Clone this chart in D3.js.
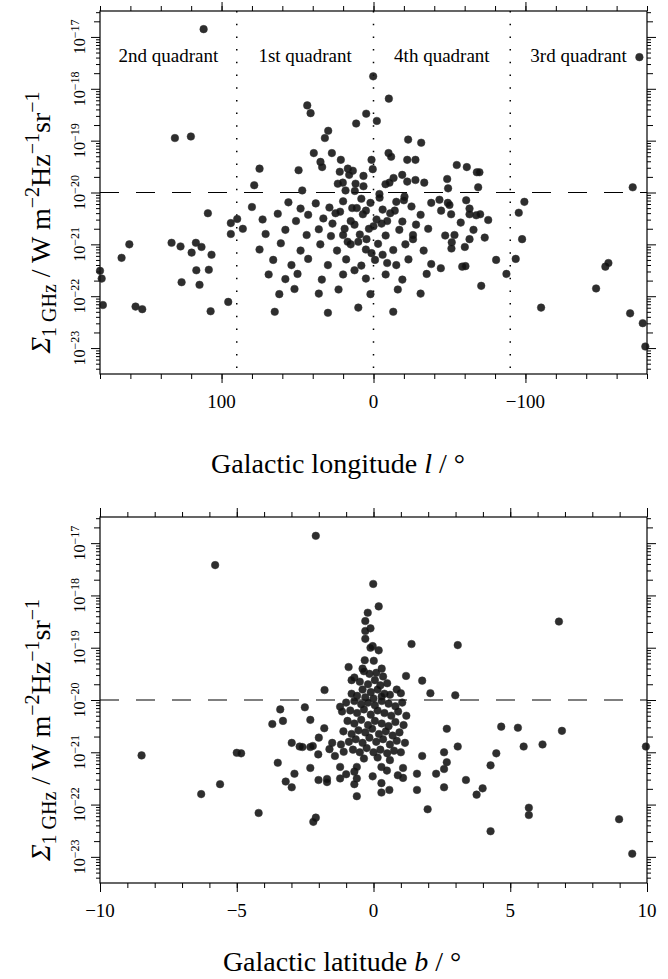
<!DOCTYPE html>
<html>
<head>
<meta charset="utf-8">
<script src="https://cdn.jsdelivr.net/npm/d3@7"></script>
<style>
  body { margin: 0; background: #fff; }
  svg { display: block; }
  text { font-family: "Liberation Serif", "Times New Roman", serif; fill: #000; }
</style>
</head>
<body>
<div id="chart"></div>
<script>
// [galactic longitude (deg), log10 Sigma_1GHz]
const lonPoints = [
  [111.8,-16.85],[130.7,-18.95],[120.2,-18.92],[180,-21.51],[178.9,-21.66],[178.1,-22.17],[165.8,-21.26],
  [160.7,-21.00],[156.6,-22.20],[152.2,-22.25],[132.9,-20.97],[127.0,-21.04],[126.3,-21.73],[119.7,-21.16],
  [116.9,-20.97],[113.2,-21.05],[116.6,-21.50],[114.5,-21.78],[108.4,-21.49],[106.6,-21.20],[107.2,-22.29],
  [109.0,-20.40],[95.6,-22.11],[93.9,-20.59],[93.9,-20.80],[89.7,-20.51],[75.0,-19.54],[78.5,-19.86],
  [49.3,-19.57],[46.9,-19.96],[43.6,-18.32],[41.4,-18.47],[29.8,-18.81],[32.0,-18.95],[39.3,-19.24],
  [34.9,-19.41],[33.8,-19.51],[27.4,-19.24],[21.5,-19.37],[22.2,-19.60],[16.9,-19.54],[13.6,-19.58],
  [16.0,-19.66],[6.6,-19.68],[11.4,-18.67],[4.8,-18.48],[0.2,-17.76],[-2.2,-18.62],[-10.1,-18.19],
  [1.3,-19.37],[0.5,-19.55],[-9.9,-19.24],[-11.6,-19.31],[-22.8,-18.98],[-31.4,-19.04],[-22.2,-19.37],
  [-27.6,-19.37],[-54.8,-19.47],[-13.2,-19.72],[-18.9,-19.66],[-22.2,-19.79],[-27.6,-19.76],[-33.4,-19.81],
  [-48.5,-19.74],[-49.1,-19.92],[23.5,-19.83],[20.2,-19.81],[18.4,-19.96],[11.8,-19.83],[6.6,-19.88],
  [12.3,-19.97],[-7.9,-19.84],[-10.5,-19.81],[-3.9,-20.03],[-20.4,-20.08],[-175.0,-17.39],[-61.4,-19.51],
  [-68.0,-19.61],[-69.7,-19.61],[-68.9,-19.90],[-170.6,-19.90],[-99.3,-20.18],[-95.6,-20.39],[-97.8,-20.90],
  [-93.6,-21.28],[-80.7,-21.30],[-87.5,-21.57],[-70.9,-21.80],[-110.3,-22.22],[-146.5,-21.85],[-152.6,-21.43],
  [-154.6,-21.36],[-168.9,-22.33],[-177.2,-22.52],[-178.9,-22.97],[-61.0,-20.15],[-63.2,-20.31],[-63.2,-20.42],
  [-67.6,-20.44],[-70.2,-20.42],[-75.5,-20.53],[-57.4,-20.58],[-65.8,-20.72],[-63.2,-20.90],[-73.2,-20.87],
  [-53.3,-20.82],[-47.2,-20.83],[-51.5,-20.96],[-51.3,-21.08],[-60.1,-21.05],[-58.4,-21.43],[-60.5,-21.42],
  [-44.3,-21.46],[-48.9,-20.20],[-50.0,-20.24],[-44.5,-20.35],[-51.1,-20.42],[-43.4,-20.14],
  // dense inner-Galaxy group below the dashed level
  [80,-20.28],[56,-20.19],[48,-20.31],[38,-20.21],[29,-20.29],[20,-20.17],[11,-20.3],[2,-20.2],[-6,-20.33],
  [-15,-20.18],[-25,-20.27],[-38,-20.2],[73,-20.52],[63,-20.41],[51,-20.55],[43,-20.43],[33,-20.5],[25,-20.4],
  [15,-20.55],[7,-20.42],[-2,-20.52],[-11,-20.4],[-19,-20.56],[-31,-20.43],[86,-20.7],[71,-20.8],[58,-20.72],
  [44,-20.82],[36,-20.71],[28,-20.84],[19,-20.7],[9,-20.81],[3,-20.7],[-8,-20.83],[-17,-20.72],[-26,-20.82],
  [-36,-20.7],[75,-21.1],[61,-20.98],[48,-21.12],[35,-21.0],[24,-21.12],[15,-21.0],[5,-21.1],[-3,-20.99],
  [-13,-21.11],[-21,-21.0],[-33,-21.12],[66,-21.3],[54,-21.4],[43,-21.28],[30,-21.4],[18,-21.29],[8,-21.41],
  [-1,-21.3],[-15,-21.4],[-23,-21.29],[-38,-21.38],[69,-21.58],[58,-21.67],[50,-21.57],[34,-21.68],[20,-21.58],
  [5,-21.66],[-8,-21.58],[-19,-21.68],[-35,-21.57],[62,-21.96],[52,-21.86],[36,-21.95],[23,-21.87],
  [2,-21.96],[-16,-21.87],[-31,-21.95],[65,-22.3],[30,-22.32],[10,-22.22],[-13,-22.3],
  [22,-20.37],[12.5,-20.62],[4.6,-20.9],[-5.3,-20.6],[-14,-20.35],[8,-20.12],[17,-20.95],[1.3,-21.17],
  [-9,-21.36],[12.5,-21.5],[-4,-20.1],[5,-20.35],[-9,-20.55],[14,-20.3],[-20,-20.15],[27,-20.6],
  [-28,-20.62],[0,-20.65],[10,-20.95],[-6,-21.2],[-26,-20.9],[20,-20.82]
];

// [galactic latitude (deg), log10 Sigma_1GHz]
const latPoints = [
  [-5.79,-17.42],[-8.48,-21.06],[-6.30,-21.80],[-5.61,-21.61],[-5.00,-21.01],[-2.11,-16.86],[-0.01,-17.78],
  [0.19,-18.21],[-0.21,-18.33],[-0.30,-18.49],[-0.11,-18.63],[-0.30,-18.68],[-0.30,-18.83],[-0.03,-18.97],
  [-0.11,-19.00],[0.19,-19.05],[1.39,-18.93],[3.08,-18.95],[-0.91,-19.37],[-0.32,-19.24],[0.01,-19.25],
  [0.30,-19.40],[-0.40,-19.40],[-0.70,-19.57],[-0.80,-19.62],[1.19,-19.54],[1.78,-19.63],[-1.79,-19.81],
  [1.00,-19.87],[2.08,-19.87],[2.99,-19.91],[-3.41,-20.18],[-2.51,-20.14],[-3.70,-20.46],[-3.31,-20.40],
  [-2.31,-20.38],[-1.80,-20.54],[-1.22,-20.13],[-2.99,-20.82],[-2.70,-20.89],[-2.60,-20.90],[-2.31,-20.90],
  [-2.22,-20.88],[-2.00,-20.72],[-2.02,-21.04],[-1.51,-20.82],[-1.61,-20.94],[-1.41,-21.07],[-1.19,-20.85],
  [-1.09,-20.99],[-4.84,-21.02],[-3.50,-21.20],[-2.89,-21.41],[-3.21,-21.56],[-2.99,-21.67],[-2.31,-21.30],
  [-2.01,-21.53],[-1.70,-21.51],[-1.70,-21.57],[-1.22,-21.28],[-1.22,-21.50],[-1.00,-21.42],[-0.70,-21.37],
  [-0.61,-21.28],[-0.61,-21.50],[-0.70,-21.61],[-0.61,-21.84],[-0.03,-21.46],[0.29,-21.28],[0.49,-21.35],
  [0.29,-21.59],[0.29,-21.77],[0.58,-21.72],[0.89,-21.44],[1.08,-21.49],[1.08,-21.30],[1.59,-21.41],
  [1.59,-21.72],[1.78,-21.07],[2.29,-21.41],[2.58,-21.00],[2.68,-21.19],[2.58,-21.32],[2.58,-21.67],
  [2.68,-20.55],[3.08,-20.89],[3.38,-21.53],[3.77,-21.81],[-4.20,-22.16],[-2.11,-22.25],[-2.20,-22.33],
  [1.98,-22.09],[6.78,-18.50],[4.67,-20.51],[5.28,-20.53],[6.89,-20.59],[5.49,-20.89],[6.18,-20.85],
  [4.49,-21.02],[4.28,-21.25],[9.96,-20.89],[3.99,-21.69],[5.68,-22.06],[5.68,-22.20],[4.28,-22.51],
  [8.98,-22.28],[9.46,-22.94],
  // crowded core close to the plane
  [-0.35,-19.45],[-0.15,-19.5],[0.1,-19.48],[0.35,-19.55],[-0.5,-19.65],[-0.2,-19.7],[0.05,-19.62],
  [0.25,-19.72],[0.5,-19.68],[-0.4,-19.8],[-0.1,-19.85],[0.15,-19.8],[0.4,-19.88],[-0.6,-19.92],
  [-0.3,-19.95],[0.0,-19.97],[0.3,-19.93],[0.6,-19.9],[-0.8,-19.88],[0.85,-19.8],
  [-1.0,-20.05],[-0.7,-20.02],[-0.45,-20.08],[-0.2,-20.05],[0.05,-20.1],[0.3,-20.02],[0.55,-20.07],
  [0.8,-20.12],[1.05,-20.05],[-1.15,-20.22],[-0.85,-20.2],[-0.6,-20.25],[-0.35,-20.18],[-0.1,-20.28],
  [0.15,-20.2],[0.4,-20.25],[0.65,-20.3],[0.9,-20.22],[1.2,-20.3],[-0.95,-20.4],[-0.7,-20.45],
  [-0.45,-20.38],[-0.2,-20.48],[0.05,-20.4],[0.3,-20.45],[0.55,-20.5],[0.8,-20.42],[1.1,-20.48],
  [-1.1,-20.6],[-0.8,-20.65],[-0.55,-20.58],[-0.3,-20.62],[-0.05,-20.55],[0.2,-20.65],[0.45,-20.6],
  [0.7,-20.68],[0.95,-20.62],[-0.9,-20.8],[-0.65,-20.75],[-0.4,-20.82],[-0.15,-20.72],[0.1,-20.8],
  [0.35,-20.75],[0.6,-20.85],[0.85,-20.78],[1.15,-20.82],[-0.75,-20.95],[-0.5,-21.0],[-0.25,-20.92],
  [0.0,-21.0],[0.25,-20.95],[0.5,-21.02],[0.75,-20.97],[1.0,-21.0],[-0.35,-21.12],[0.15,-21.1],[0.6,-21.15]
];

const decades = [-23, -22, -21, -20, -19, -18, -17];
const lonLabels = [100, 0, -100];
const latLabels = [-10, -5, 0, 5, 10];
const quadrantNames = ['2nd quadrant', '1st quadrant', '4th quadrant', '3rd quadrant'];
const quadrantCentres = [135, 45, -45, -135];
const quadrantEdges = [90, 0, -90];
const threshold = 1e-20;

const width = 668, height = 979;
const left = 100, right = 647;

const svg = d3.select('#chart').append('svg')
  .attr('width', width)
  .attr('height', height);

svg.append('rect').attr('width', width).attr('height', height).attr('fill', '#fff');

// minor log ticks k x 10^n inside the domain; the k = 2 ones are drawn a bit longer
const yDomain = [Math.pow(10, -23.5), Math.pow(10, -16.5)];
const minorTicks = [], minorTicks2 = [];
for (let n = -24; n <= -17; n++) {
  for (let k = 2; k <= 9; k++) {
    const v = k * Math.pow(10, n);
    if (v < yDomain[0] || v > yDomain[1]) continue;
    (k === 2 ? minorTicks2 : minorTicks).push(v);
  }
}

function drawPanel(p) {
  const x = d3.scaleLinear().domain(p.xDomain).range([left, right]);
  const y = d3.scaleLog().domain(yDomain).range([p.bottom, p.top]);
  const g = svg.append('g');
  const strip = s => s.select('.domain').remove();

  // y ticks, both sides
  [[d3.axisLeft, left], [d3.axisRight, right]].forEach(([ax, xp]) => {
    [[minorTicks, 4], [minorTicks2, 6], [decades.map(e => Math.pow(10, e)), 9]].forEach(([vals, len]) => {
      g.append('g').attr('transform', `translate(${xp},0)`)
        .call(ax(y).tickValues(vals).tickSize(len).tickFormat('')).call(strip);
    });
  });

  // x ticks, top and bottom
  const xMinor = d3.range(Math.min(...p.xDomain), Math.max(...p.xDomain) + 1e-9, p.minorStep);
  [[d3.axisTop, p.top], [d3.axisBottom, p.bottom]].forEach(([ax, yp]) => {
    g.append('g').attr('transform', `translate(0,${yp})`)
      .call(ax(x).tickValues(xMinor).tickSize(5).tickFormat('')).call(strip);
    g.append('g').attr('transform', `translate(0,${yp})`)
      .call(ax(x).tickValues(p.majors).tickSize(9).tickFormat('')).call(strip);
  });

  g.selectAll('.tick line').attr('stroke', '#000').attr('stroke-width', 1);

  // frame
  g.append('rect')
    .attr('x', left).attr('y', p.top)
    .attr('width', right - left).attr('height', p.bottom - p.top)
    .attr('fill', 'none').attr('stroke', '#000').attr('stroke-width', 1.2);

  // x tick labels
  g.selectAll('.xlab').data(p.majors).enter().append('text')
    .attr('x', d => x(d)).attr('y', p.bottom + 34)
    .attr('text-anchor', 'middle').style('font-size', '19px')
    .text(d => d < 0 ? '\u2212' + Math.abs(d) : d);

  // y tick labels, rotated, as 10^n
  const yl = g.selectAll('.ylab').data(decades).enter().append('text')
    .attr('transform', d => `translate(85,${y(Math.pow(10, d))}) rotate(-90)`)
    .attr('text-anchor', 'middle').style('font-size', '16px');
  yl.append('tspan').text('10');
  yl.append('tspan').attr('dy', -6).style('font-size', '12px').text(d => '\u2212' + Math.abs(d));

  // y title
  const yt = g.append('text')
    .attr('transform', `translate(50,${(p.top + p.bottom) / 2 + 30}) rotate(-90)`)
    .attr('text-anchor', 'middle').style('font-size', '28px');
  yt.append('tspan').style('font-style', 'italic').text('\u03A3');
  yt.append('tspan').attr('dy', 6).style('font-size', '20px').text('1 GHz');
  yt.append('tspan').attr('dy', -6).text(' / W m');
  yt.append('tspan').attr('dy', -11).style('font-size', '20px').text('\u22122');
  yt.append('tspan').attr('dy', 11).text('Hz');
  yt.append('tspan').attr('dy', -11).style('font-size', '20px').text('\u22121');
  yt.append('tspan').attr('dy', 11).text('sr');
  yt.append('tspan').attr('dy', -11).style('font-size', '20px').text('\u22121');

  // x title
  const xt = g.append('text')
    .attr('x', p.titleX).attr('y', p.titleY)
    .attr('text-anchor', 'middle').style('font-size', '28px');
  xt.append('tspan').text(p.titleA);
  xt.append('tspan').style('font-style', 'italic').text(p.titleVar);
  xt.append('tspan').text(' / \u00B0');

  // reference level
  g.append('line')
    .attr('x1', left).attr('x2', right)
    .attr('y1', y(threshold)).attr('y2', y(threshold))
    .attr('stroke', '#000').attr('stroke-width', 1.2)
    .attr('stroke-dasharray', '19,17');

  if (p.quadrants) {
    g.selectAll('.qline').data(quadrantEdges).enter().append('line')
      .attr('x1', d => x(d)).attr('x2', d => x(d))
      .attr('y1', p.top).attr('y2', p.bottom)
      .attr('stroke', '#000').attr('stroke-width', 1.5)
      .attr('stroke-dasharray', '1.5,11.2');
    g.selectAll('.qlab').data(quadrantNames).enter().append('text')
      .attr('x', (d, i) => x(quadrantCentres[i])).attr('y', p.top + 51)
      .attr('text-anchor', 'middle').style('font-size', '19px')
      .text(d => d);
  }

  g.selectAll('circle').data(p.points).enter().append('circle')
    .attr('cx', d => x(d[0]))
    .attr('cy', d => y(Math.pow(10, d[1])))
    .attr('r', 3.8)
    .attr('fill', '#111')
    .attr('fill-opacity', 0.88)
    .attr('stroke', '#333')
    .attr('stroke-width', 0.5);
}

drawPanel({
  top: 11, bottom: 374, xDomain: [180, -180], minorStep: 20, majors: lonLabels,
  points: lonPoints, quadrants: true, titleA: 'Galactic longitude ', titleVar: 'l',
  titleX: 338, titleY: 473
});

drawPanel({
  top: 517, bottom: 883, xDomain: [-10, 10], minorStep: 1, majors: latLabels,
  points: latPoints, quadrants: false, titleA: 'Galactic latitude ', titleVar: 'b',
  titleX: 342, titleY: 971
});
</script>
</body>
</html>
